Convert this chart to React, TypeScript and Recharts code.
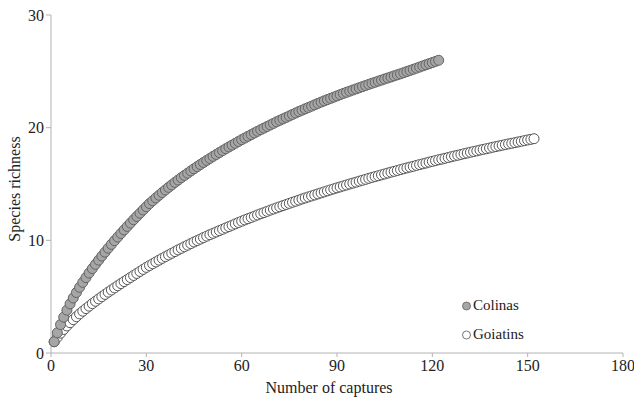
import { ScatterChart, Scatter, XAxis, YAxis, Label } from "recharts";

// species richness by number of captures (capture 1..n)
const colinasRichness = [
  1.0, 1.8, 2.52, 3.18, 3.8, 4.36, 4.88, 5.37, 5.83, 6.27,
  6.69, 7.1, 7.49, 7.87, 8.24, 8.6, 8.95, 9.3, 9.64, 9.97,
  10.29, 10.61, 10.92, 11.23, 11.53, 11.83, 12.12, 12.41, 12.7, 12.98,
  13.26, 13.51, 13.76, 14.0, 14.24, 14.47, 14.7, 14.92, 15.14, 15.35,
  15.56, 15.76, 15.96, 16.16, 16.35, 16.54, 16.73, 16.91, 17.09, 17.27,
  17.45, 17.62, 17.79, 17.96, 18.13, 18.29, 18.45, 18.61, 18.77, 18.93,
  19.08, 19.23, 19.38, 19.53, 19.68, 19.82, 19.96, 20.1, 20.24, 20.38,
  20.52, 20.65, 20.78, 20.91, 21.04, 21.17, 21.3, 21.43, 21.55, 21.67,
  21.79, 21.91, 22.03, 22.15, 22.27, 22.38, 22.49, 22.6, 22.71, 22.82,
  22.93, 23.04, 23.14, 23.24, 23.34, 23.44, 23.54, 23.64, 23.74, 23.84,
  23.94, 24.03, 24.13, 24.22, 24.32, 24.41, 24.5, 24.6, 24.69, 24.78,
  24.88, 24.98, 25.08, 25.18, 25.28, 25.38, 25.48, 25.58, 25.68, 25.78,
  25.88, 25.98,
];

const goiatinsRichness = [
  1.0, 1.4, 1.76, 2.09, 2.4, 2.69, 2.96, 3.22, 3.47, 3.71,
  3.94, 4.16, 4.38, 4.59, 4.8, 5.0, 5.2, 5.4, 5.59, 5.78,
  5.97, 6.16, 6.34, 6.52, 6.7, 6.88, 7.06, 7.24, 7.42, 7.6,
  7.76, 7.92, 8.08, 8.24, 8.4, 8.55, 8.7, 8.85, 9.0, 9.15,
  9.29, 9.43, 9.57, 9.71, 9.85, 9.98, 10.11, 10.24, 10.37, 10.5,
  10.62, 10.74, 10.86, 10.98, 11.1, 11.22, 11.34, 11.46, 11.58, 11.7,
  11.81, 11.92, 12.03, 12.14, 12.25, 12.36, 12.46, 12.57, 12.68, 12.78,
  12.88, 12.98, 13.08, 13.18, 13.28, 13.38, 13.47, 13.57, 13.67, 13.76,
  13.85, 13.94, 14.03, 14.12, 14.21, 14.3, 14.39, 14.48, 14.57, 14.66,
  14.74, 14.83, 14.91, 15.0, 15.08, 15.16, 15.25, 15.33, 15.41, 15.5,
  15.58, 15.66, 15.73, 15.81, 15.89, 15.97, 16.05, 16.12, 16.2, 16.28,
  16.35, 16.43, 16.5, 16.57, 16.65, 16.72, 16.79, 16.86, 16.94, 17.01,
  17.08, 17.15, 17.21, 17.28, 17.35, 17.42, 17.49, 17.55, 17.62, 17.69,
  17.75, 17.82, 17.88, 17.94, 18.01, 18.07, 18.13, 18.19, 18.26, 18.32,
  18.38, 18.44, 18.5, 18.56, 18.61, 18.67, 18.73, 18.79, 18.85, 18.91,
  18.96, 19.02,
];

const xTicks = [0, 30, 60, 90, 120, 150, 180];
const yTicks = [0, 10, 20, 30];

const seriesNames = ["Colinas", "Goiatins"];

const toPoints = (values: number[]) =>
  values.map((y, i) => ({ x: i + 1, y }));

const colinasData = toPoints(colinasRichness);
const goiatinsData = toPoints(goiatinsRichness);

const FONT = '"Liberation Serif", "Times New Roman", Times, serif';
const AXIS_COLOR = "#b3b3b3";
const TEXT_COLOR = "#222";

const STYLES: Record<string, { fill: string; stroke: string }> = {
  Colinas: { fill: "#a6a6a6", stroke: "#636363" },
  Goiatins: { fill: "#ffffff", stroke: "#555555" },
};

const dot = (name: string) => (props: any) => (
  <circle
    cx={props.cx}
    cy={props.cy}
    r={5}
    fill={STYLES[name].fill}
    stroke={STYLES[name].stroke}
    strokeWidth={1}
  />
);

const CustomLegend = () => (
  <div
    style={{
      position: "absolute",
      left: 461,
      top: 291,
      fontFamily: FONT,
      fontSize: 15,
      color: TEXT_COLOR,
      lineHeight: "15px",
    }}
  >
    {seriesNames.map((name) => (
      <div
        key={name}
        style={{ display: "flex", alignItems: "center", height: 29 }}
      >
        <svg width={11} height={10} style={{ marginRight: 1 }}>
          <circle
            cx={5.5}
            cy={5}
            r={4}
            fill={STYLES[name].fill}
            stroke={STYLES[name].stroke}
            strokeWidth={0.8}
          />
        </svg>
        <span>{name}</span>
      </div>
    ))}
  </div>
);

export default function App() {
  return (
    <div
      style={{
        position: "absolute",
        left: 0,
        top: 0,
        width: 634,
        height: 401,
        background: "#fff",
        fontFamily: FONT,
      }}
    >
      <ScatterChart
        width={634}
        height={401}
        margin={{ top: 15, right: 11, bottom: 18, left: 0 }}
        style={{ fontFamily: FONT }}
      >
        <XAxis
          type="number"
          dataKey="x"
          domain={[0, 180]}
          ticks={xTicks}
          interval={0}
          height={30}
          stroke={AXIS_COLOR}
          tickSize={4}
          tickMargin={3}
          tick={{ fill: TEXT_COLOR, fontSize: 16, fontFamily: FONT }}
        >
          <Label
            content={() => (
              <text
                x={329}
                y={393}
                textAnchor="middle"
                fontFamily={FONT}
                fontSize={16}
                fill={TEXT_COLOR}
              >
                Number of captures
              </text>
            )}
          />
        </XAxis>
        <YAxis
          type="number"
          dataKey="y"
          domain={[0, 30]}
          ticks={yTicks}
          interval={0}
          width={51}
          stroke={AXIS_COLOR}
          tickSize={5}
          tickMargin={2}
          tick={{ fill: TEXT_COLOR, fontSize: 16, fontFamily: FONT }}
        >
          <Label
            content={() => (
              <text
                x={20}
                y={189}
                transform="rotate(-90 20 189)"
                textAnchor="middle"
                fontFamily={FONT}
                fontSize={16}
                fill={TEXT_COLOR}
              >
                Species richness
              </text>
            )}
          />
        </YAxis>
        <Scatter
          name="Goiatins"
          data={goiatinsData}
          shape={dot("Goiatins")}
          isAnimationActive={false}
        />
        <Scatter
          name="Colinas"
          data={colinasData}
          shape={dot("Colinas")}
          isAnimationActive={false}
        />
      </ScatterChart>
      <CustomLegend />
    </div>
  );
}
